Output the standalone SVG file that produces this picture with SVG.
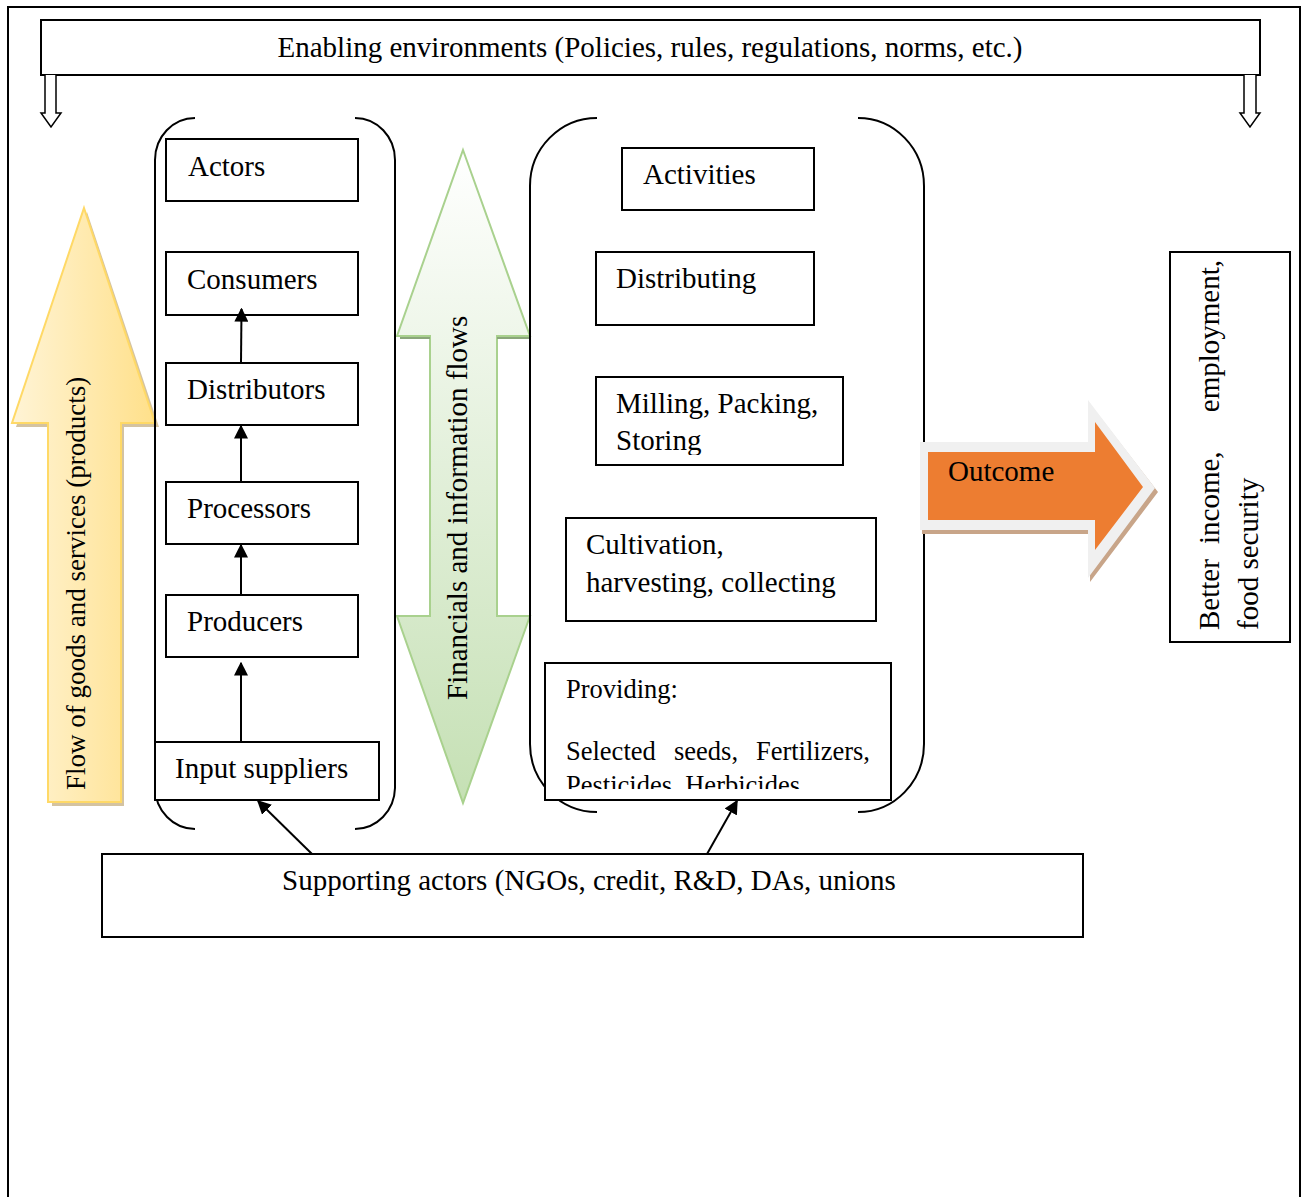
<svg xmlns="http://www.w3.org/2000/svg" width="1308" height="1197" viewBox="0 0 1308 1197">
<defs>
<style>
text{font-family:"Liberation Serif","Times New Roman",serif;font-size:29px;fill:#000}
.box{fill:#fff;stroke:#000;stroke-width:2}
.br{fill:none;stroke:#000;stroke-width:2}
.ln{stroke:#000;stroke-width:2;fill:none}
.sm{font-size:26.5px}
.vt{font-size:27px}
</style>
<marker id="ah2" viewBox="0 0 10 10" refX="9" refY="5" markerWidth="14" markerHeight="14" orient="auto" markerUnits="userSpaceOnUse">
<path d="M0,0 L10,5 L0,10 z" fill="#000"/>
</marker>
<linearGradient id="yg" x1="0" y1="0" x2="1" y2="0">
<stop offset="0" stop-color="#fff4d6"/>
<stop offset="1" stop-color="#ffe08a"/>
</linearGradient>
<linearGradient id="gg" x1="0" y1="0" x2="0" y2="1">
<stop offset="0" stop-color="#ffffff"/>
<stop offset="1" stop-color="#c5e0b4"/>
</linearGradient>
<clipPath id="provClip"><rect x="545" y="663" width="346" height="126"/></clipPath>
<clipPath id="millClip"><rect x="596" y="377" width="247" height="78"/></clipPath>
</defs>

<rect x="8" y="7" width="1292" height="1200" fill="none" stroke="#000" stroke-width="2"/>

<g id="enabling">
<rect class="box" x="41" y="20" width="1219" height="55"/>
<text x="650" y="57" text-anchor="middle">Enabling environments (Policies, rules, regulations, norms, etc.)</text>
<path d="M45,75 V113 H41 L51,127 L61,113 H56 V75" fill="#fff" stroke="#000" stroke-width="1.5"/>
<path d="M1244,75 V113 H1240 L1250,127 L1260,113 H1256 V75" fill="#fff" stroke="#000" stroke-width="1.5"/>
</g>

<g id="flow-goods">
<path d="M87,212 L159,427 H124 V806 H52 V427 H16 Z" fill="#c9b48a" opacity="0.8"/>
<path d="M84,208 L155,423 H121 V802 H48 V423 H12 Z" fill="url(#yg)" stroke="#ffd966" stroke-width="2"/>
<text class="vt" transform="translate(85,790) rotate(-90)">Flow of goods and services (products)</text>
</g>

<g id="financial-flows">
<path d="M463,150 L530,336 H497 V616 H530 L463,803 L397,616 H430 V336 H397 Z" fill="url(#gg)" stroke="#a9d18e" stroke-width="2"/>
<path d="M400,338 H430 M497,338 H530" stroke="#8aa67a" stroke-width="2"/>
<text transform="translate(467,700) rotate(-90)">Financials and information flows</text>
</g>

<g id="actors-bracket">
<path class="br" d="M195,118 A40,42 0 0 0 155,160 V788 A40,42 0 0 0 195,829"/>
<path class="br" d="M355,118 A40,42 0 0 1 395,160 V788 A40,42 0 0 1 355,829"/>
</g>

<g id="actors"><rect class="box" x="166" y="139" width="192" height="62"/><text x="188" y="176">Actors</text></g>
<g id="consumers"><rect class="box" x="166" y="252" width="192" height="63"/><text x="187" y="289">Consumers</text></g>
<g id="distributors"><rect class="box" x="166" y="363" width="192" height="62"/><text x="187" y="399">Distributors</text></g>
<g id="processors"><rect class="box" x="166" y="482" width="192" height="62"/><text x="187" y="518">Processors</text></g>
<g id="producers"><rect class="box" x="166" y="595" width="192" height="62"/><text x="187" y="631">Producers</text></g>
<g id="input-suppliers"><rect class="box" x="155" y="742" width="224" height="58"/><text x="175" y="778">Input suppliers</text></g>

<g id="activities-bracket">
<path class="br" d="M597,118 A67,68 0 0 0 530,186 V744 A67,68 0 0 0 597,812"/>
<path class="br" d="M858,118 A66,68 0 0 1 924,186 V744 A66,68 0 0 1 858,812"/>
</g>

<g id="activities"><rect class="box" x="622" y="148" width="192" height="62"/><text x="643" y="184">Activities</text></g>
<g id="distributing"><rect class="box" x="596" y="252" width="218" height="73"/><text x="616" y="288">Distributing</text></g>
<g id="milling"><rect class="box" x="596" y="377" width="247" height="88"/>
<g clip-path="url(#millClip)"><text x="616" y="413">Milling, Packing,</text><text x="616" y="450">Storing</text></g></g>
<g id="cultivation"><rect class="box" x="566" y="518" width="310" height="103"/><text x="586" y="554">Cultivation,</text><text x="586" y="592">harvesting, collecting</text></g>
<g id="providing"><rect class="box" x="545" y="663" width="346" height="137"/>
<g clip-path="url(#provClip)">
<text class="sm" x="566" y="698">Providing:</text>
<text class="sm" y="760"><tspan x="566">Selected</tspan><tspan x="674">seeds,</tspan><tspan x="870" text-anchor="end">Fertilizers,</tspan></text>
<text class="sm" x="566" y="794">Pesticides, Herbicides</text>
</g></g>

<g id="outcome">
<path d="M922,446 H1090 V404 L1158,492 L1090,582 V534 H922 Z" fill="#c8a589"/>
<path d="M920,442 H1088 V400 L1155,488 L1088,578 V530 H920 Z" fill="#f0f0f0"/>
<path d="M928,452 H1095 V422 L1143,487 L1095,550 V520 H928 Z" fill="#ed7d31"/>
<text x="948" y="481">Outcome</text>
</g>

<g id="result">
<rect class="box" x="1170" y="252" width="120" height="390"/>
<text transform="translate(1219,630) rotate(-90)"><tspan x="0">Better</tspan><tspan x="86">income,</tspan><tspan x="370" text-anchor="end">employment,</tspan></text>
<text transform="translate(1258,630) rotate(-90)">food security</text>
</g>

<g id="supporting"><rect class="box" x="102" y="854" width="981" height="83"/><text x="282" y="890">Supporting actors (NGOs, credit, R&amp;D, DAs, unions</text></g>

<g id="connectors">
<line class="ln" x1="241" y1="362" x2="241.5" y2="309" marker-end="url(#ah2)"/>
<line class="ln" x1="241" y1="481" x2="241" y2="426" marker-end="url(#ah2)"/>
<line class="ln" x1="241" y1="594" x2="241" y2="545" marker-end="url(#ah2)"/>
<line class="ln" x1="241" y1="741" x2="241" y2="663" marker-end="url(#ah2)"/>
<line class="ln" x1="312" y1="854" x2="258" y2="801" marker-end="url(#ah2)"/>
<line class="ln" x1="707" y1="854" x2="737" y2="801" marker-end="url(#ah2)"/>
</g>
</svg>
